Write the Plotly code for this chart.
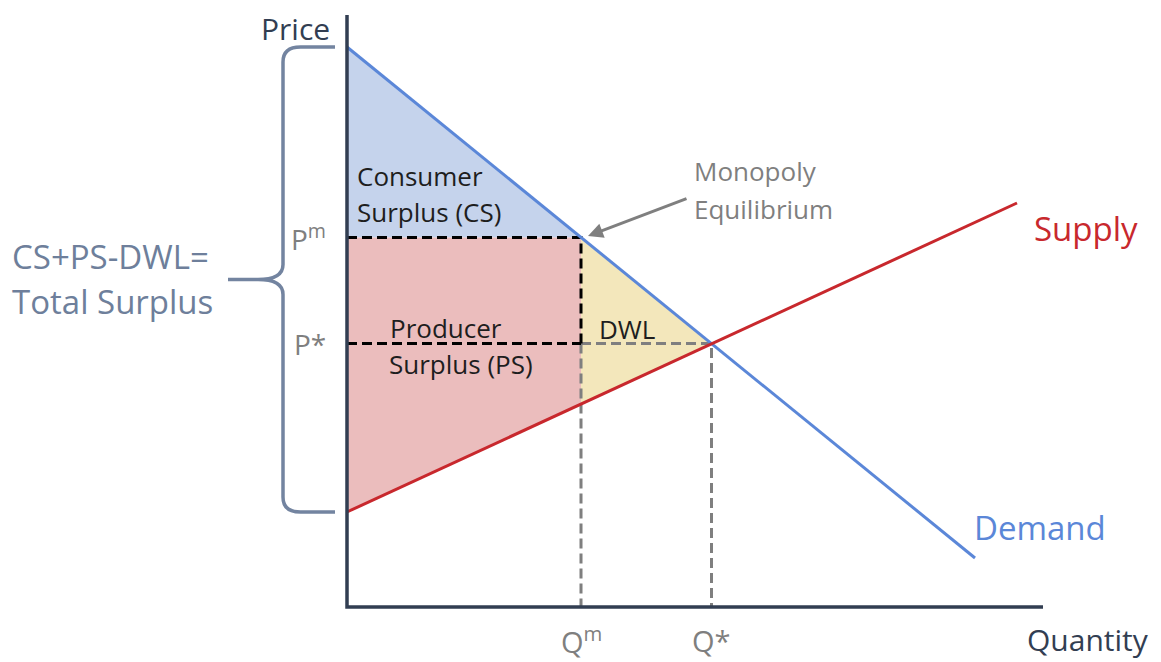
import numpy as np
import plotly.graph_objects as go

# ---- data (economic units) ----
demand_q = [0.0, 12.56]
demand_p = [11.2, 0.98]
supply_q = [0.0, 13.4]
supply_p = [1.9, 8.08]
q_m = 4.68          # monopoly quantity
q_star = 7.29       # competitive equilibrium quantity
axis_q_max = 13.92
axis_p_max = 11.84

# derived from the lines
def demand(q):
    return np.interp(q, demand_q, demand_p)

def supply(q):
    return np.interp(q, supply_q, supply_p)

p_m = float(demand(q_m))
p_star = float(demand(q_star))
s_m = float(supply(q_m))

# ---- colours ----
C_DEM = "#5b87d8"
C_SUP = "#c8282d"
C_CS = "#c5d3ec"
C_PS = "#ebbdbd"
C_DWL = "#f3e7bb"
C_AX = "#323e52"
C_GRAY = "#7f7f7f"
C_SLATE = "#6e7f9b"
C_TXT = "#1e1e1e"
FONT = "Open Sans"

fig = go.Figure()

# surplus areas
fig.add_trace(go.Scatter(x=[0, q_m, 0, 0], y=[demand_p[0], p_m, p_m, demand_p[0]],
                         fill="toself", fillcolor=C_CS, line=dict(width=0), mode="lines",
                         hoverinfo="skip"))
fig.add_trace(go.Scatter(x=[0, q_m, q_m, 0, 0], y=[p_m, p_m, s_m, supply_p[0], p_m],
                         fill="toself", fillcolor=C_PS, line=dict(width=0), mode="lines",
                         hoverinfo="skip"))
fig.add_trace(go.Scatter(x=[q_m, q_star, q_m, q_m], y=[p_m, p_star, s_m, p_m],
                         fill="toself", fillcolor=C_DWL, line=dict(width=0), mode="lines",
                         hoverinfo="skip"))

dash = "10px,5px"
# gray dashed guides
fig.add_trace(go.Scatter(x=[q_m, q_star, q_star], y=[p_star, p_star, 0], mode="lines",
                         line=dict(color=C_GRAY, width=3, dash=dash), hoverinfo="skip"))
fig.add_trace(go.Scatter(x=[q_m, q_m], y=[p_star, 0], mode="lines",
                         line=dict(color=C_GRAY, width=3, dash=dash), hoverinfo="skip"))
# black dashed guides
fig.add_trace(go.Scatter(x=[0, q_m, q_m], y=[p_m, p_m, p_star], mode="lines",
                         line=dict(color="black", width=3, dash=dash), hoverinfo="skip"))
fig.add_trace(go.Scatter(x=[0, q_m], y=[p_star, p_star], mode="lines",
                         line=dict(color="black", width=3, dash=dash), hoverinfo="skip"))

# demand & supply
fig.add_trace(go.Scatter(x=demand_q, y=demand_p, mode="lines",
                         line=dict(color=C_DEM, width=3), hoverinfo="skip"))
fig.add_trace(go.Scatter(x=supply_q, y=supply_p, mode="lines",
                         line=dict(color=C_SUP, width=3), hoverinfo="skip"))

# axes
fig.add_trace(go.Scatter(x=[0, 0, axis_q_max], y=[axis_p_max, 0, 0], mode="lines",
                         line=dict(color=C_AX, width=3.5), hoverinfo="skip"))

# curly brace spanning the total-surplus region
top = demand_p[0]
bot = supply_p[0]
mid = (top + bot) / 2
xe, xv, xt = -0.24, -1.28, -2.38   # end, vertical, tip
r = 0.3
path = (f"M {xe},{top} L {xv+0.35},{top} Q {xv},{top} {xv},{top-r} "
        f"L {xv},{mid+r} Q {xv},{mid} {xv-0.5},{mid} L {xt},{mid} "
        f"M {xt},{mid} L {xv-0.5},{mid} Q {xv},{mid} {xv},{mid-r} "
        f"L {xv},{bot+r} Q {xv},{bot} {xv+0.35},{bot} L {xe},{bot}")
fig.add_shape(type="path", path=path, xref="x", yref="y",
              line=dict(color="#7384a0", width=3.5))

def ann(text, x, y, color, size, xanchor="left", yanchor="middle"):
    fig.add_annotation(text=text, x=x, y=y, xref="x", yref="y", showarrow=False,
                       font=dict(family=FONT, size=size, color=color),
                       xanchor=xanchor, yanchor=yanchor, borderpad=0)

# page-pixel helpers for label placement (page has an 8px body margin)
PX = 50.0
def X(px):
    return (px - 347) / PX
def Y(py):
    return (607 - py) / PX

ann("Price", X(331), Y(28), C_AX, 30, xanchor="right")
ann("Quantity", X(1150), Y(639), C_AX, 30, xanchor="right")
ann("Q<sup>m</sup>", q_m, Y(640), C_GRAY, 29, xanchor="center")
ann("Q*", q_star, Y(640), C_GRAY, 29, xanchor="center")
ann("P<sup>m</sup>", X(327), p_m, C_GRAY, 28, xanchor="right")
ann("P*", X(327), p_star, C_GRAY, 28, xanchor="right")
ann("CS+PS-DWL=", X(11), Y(256), C_SLATE, 33)
ann("Total Surplus", X(11), Y(301), C_SLATE, 33)
ann("Consumer", X(356), Y(176), C_TXT, 26)
ann("Surplus (CS)", X(356), Y(212), C_TXT, 26)
ann("Producer", X(389), Y(328), C_TXT, 26)
ann("Surplus (PS)", X(388), Y(364), C_TXT, 26)
ann("DWL", X(598), Y(329), C_TXT, 26)
ann("Monopoly", X(693), Y(171), C_GRAY, 26)
ann("Equilibrium", X(693), Y(209), C_GRAY, 26)
ann("Supply", X(1033), Y(228), C_SUP, 33)
ann("Demand", X(973), Y(527), C_DEM, 33)

# arrow to monopoly equilibrium
fig.add_annotation(x=X(588), y=Y(236), ax=X(688), ay=Y(198), xref="x", yref="y",
                   axref="x", ayref="y", text="", showarrow=True,
                   arrowhead=2, arrowsize=1, arrowwidth=3, arrowcolor=C_GRAY)

OFF = 8  # default body margin of the generated page
fig.update_layout(
    width=1161 - OFF, height=662 - OFF,
    margin=dict(l=0, r=0, t=0, b=0),
    paper_bgcolor="white", plot_bgcolor="white",
    showlegend=False,
    xaxis=dict(range=[X(OFF), X(1161)], visible=False, fixedrange=True),
    yaxis=dict(range=[Y(662), Y(OFF)], visible=False, fixedrange=True),
)

fig.write_html("out.html")
